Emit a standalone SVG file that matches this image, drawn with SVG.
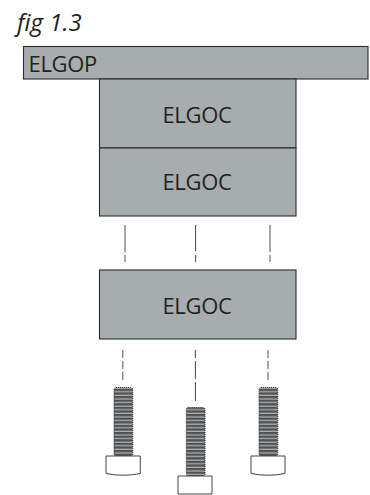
<svg xmlns="http://www.w3.org/2000/svg" width="370" height="495" viewBox="0 0 370 495">
<style>
.box{fill:#a7acae;stroke:#2b2b2d;stroke-width:1.1}
.lbl{font-family:"Open Sans","Liberation Sans",sans-serif;font-size:22px;fill:#231f20;letter-spacing:-0.3px}
.mid{text-anchor:middle}
.dash{fill:none;stroke:#8a8a8c;stroke-width:1.5}
.dash2{fill:none;stroke:#2f2f30;stroke-width:0.9}
.head{fill:#fff;stroke:#444;stroke-width:1}
.thread{fill:url(#th);stroke:#333;stroke-width:1;stroke-dasharray:1 1}
</style>
<defs>
<pattern id="th" width="4" height="3.6" patternUnits="userSpaceOnUse">
<rect width="4" height="3.6" fill="#4f5052"/>
<rect y="2.4" width="4" height="1" fill="#c9cbcd"/>
</pattern>
</defs>
<rect width="370" height="495" fill="#fff"/>
<text x="17" y="31" font-family="'Open Sans','Liberation Sans',sans-serif" font-size="24" font-style="italic" fill="#231f20">fig 1.3</text>
<g id="plate"><rect class="box" x="23.5" y="46.5" width="344.5" height="32.5"/><text class="lbl" x="28.5" y="72">ELGOP</text></g>
<g id="ch1"><rect class="box" x="99.5" y="79" width="196.5" height="69"/><text class="lbl mid" x="197" y="123">ELGOC</text></g>
<g id="ch2"><rect class="box" x="99.5" y="148" width="196.5" height="68"/><text class="lbl mid" x="197" y="190">ELGOC</text></g>
<g id="ch3"><rect class="box" x="99.5" y="270" width="196.5" height="69"/><text class="lbl mid" x="197" y="314">ELGOC</text></g>
<g id="connectors">
<path class="dash" d="M125 225V252M125 255V262M270 225V252M270 255V262M122.7 350V358M122.7 361V369M122.7 372V380M268 350V358M268 361V369M268 372V380"/>
<path class="dash2" d="M195.6 225V251M195.6 255V262M195.4 350V358M195.4 361V379M195.4 382V401"/>
</g>
<g id="bolt1"><rect class="thread" x="114" y="387.5" width="18.7" height="68.5" rx="2"/><path class="head" d="M106 456H140.3V473.5Q123 477 106 473.5Z"/></g>
<g id="bolt2"><rect class="thread" x="186.3" y="407.5" width="18.7" height="68.5" rx="2"/><path class="head" d="M178 476H212V494H178Z"/></g>
<g id="bolt3"><rect class="thread" x="259" y="387.5" width="18.7" height="68.5" rx="2"/><path class="head" d="M251 456H285V473.5Q268 477 251 473.5Z"/></g>
</svg>
